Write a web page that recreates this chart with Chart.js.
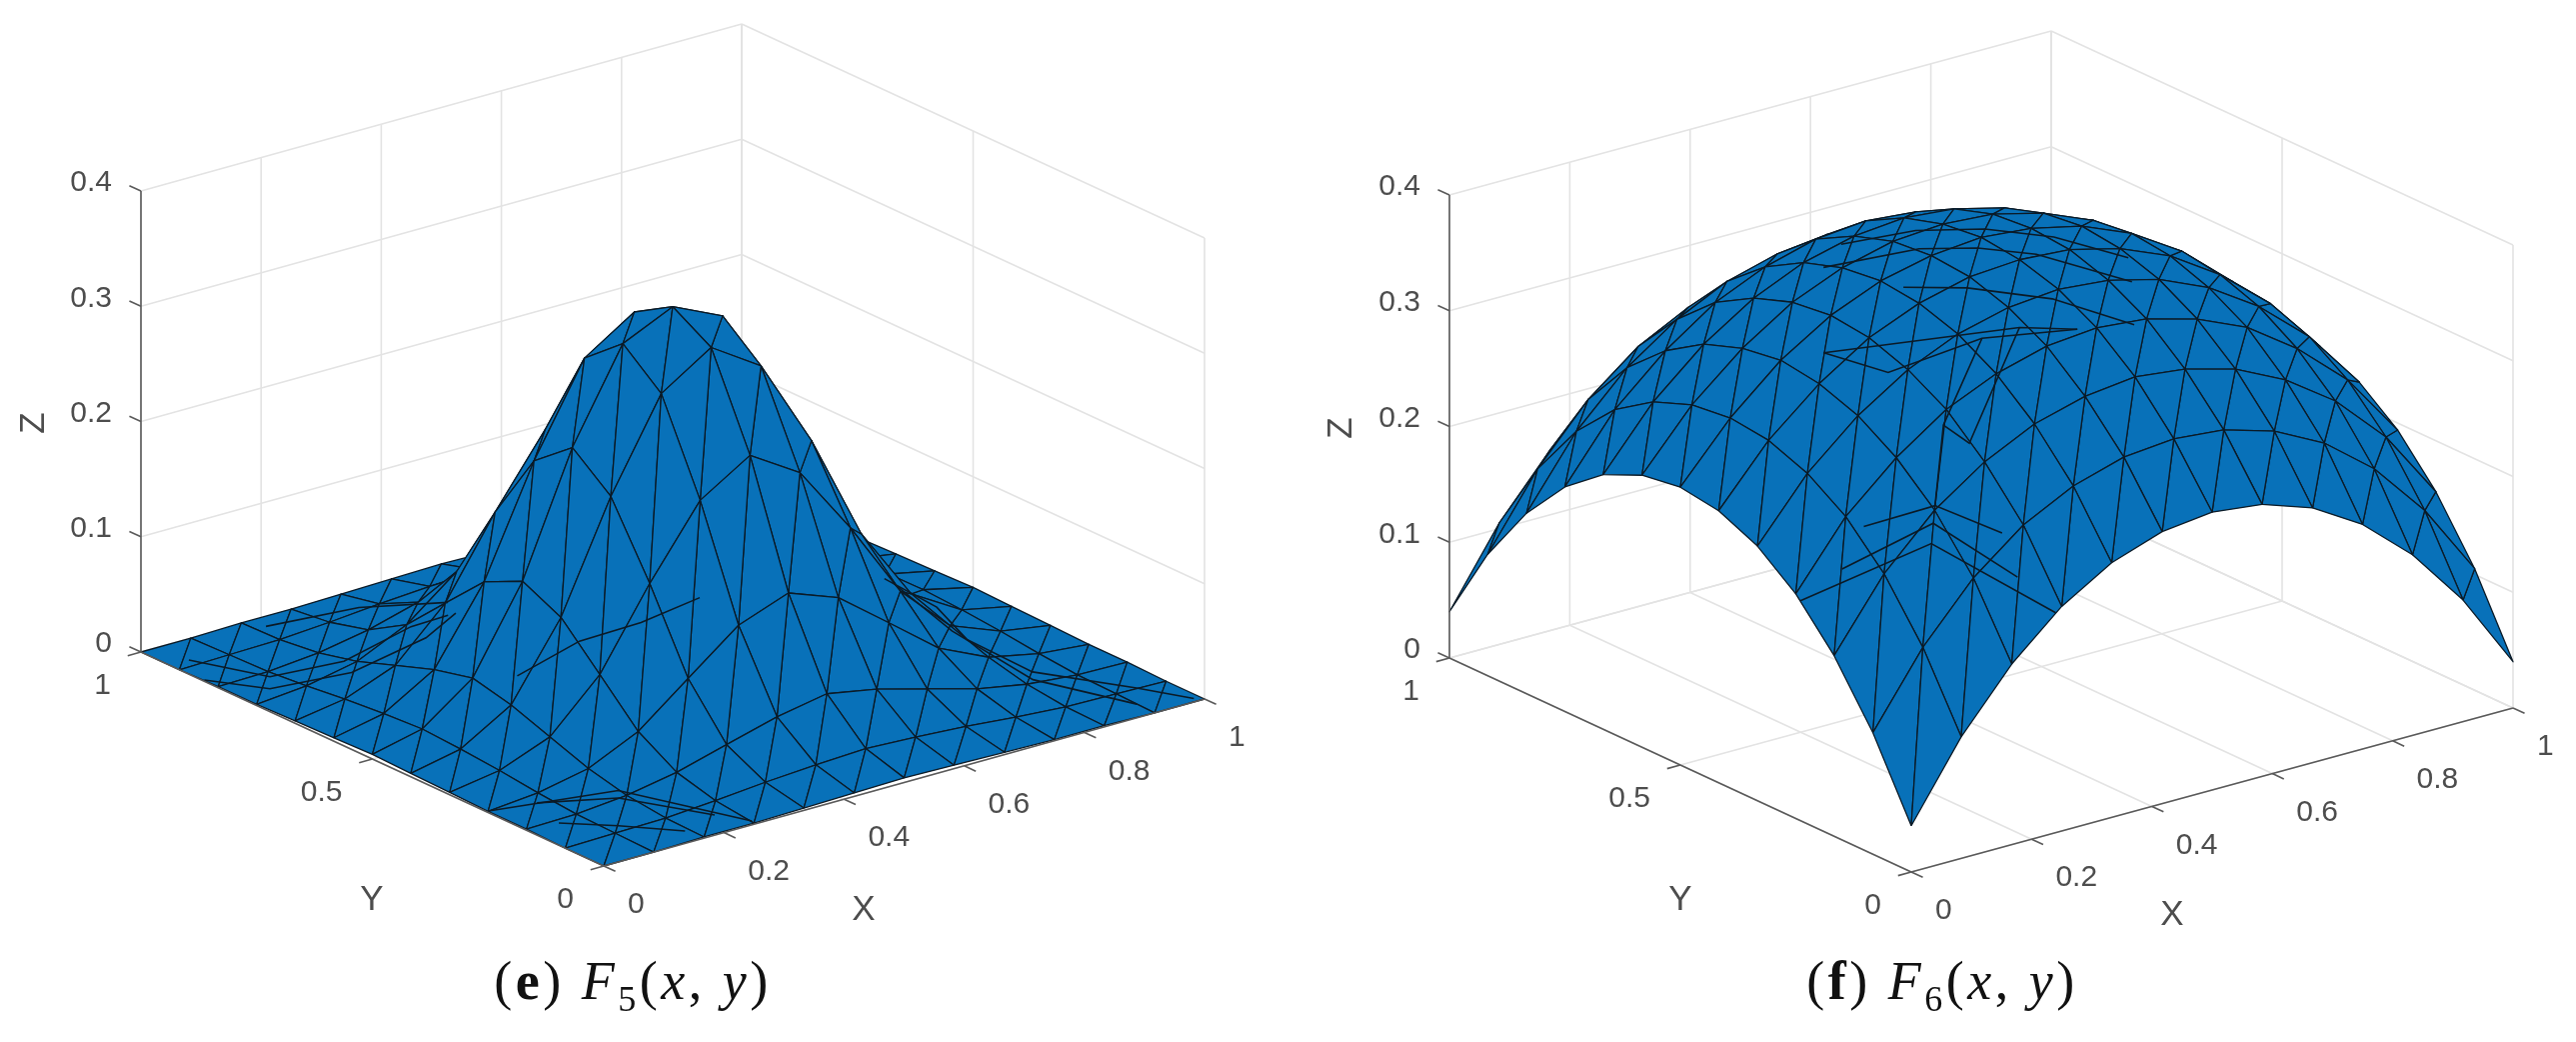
<!DOCTYPE html>
<html>
<head>
<meta charset="utf-8">
<title>F5 F6</title>
<script src="https://cdn.jsdelivr.net/npm/chart.js@4/dist/chart.umd.min.js"></script>
<style>
  html, body { margin: 0; padding: 0; background: #fff; overflow: hidden; }
  #wrap { position: relative; width: 2577px; height: 1042px; }
  canvas { position: absolute; left: 0; top: 0; filter: blur(0.5px); }
  .cap { position: absolute; top: 950px; transform: translateX(-50%); font: 54px "Liberation Serif", serif; letter-spacing: 3.5px; color: #111; white-space: nowrap; }
  .cap sub { font-size: 36px; vertical-align: -12px; line-height: 0; }
</style>
</head>
<body>
<div id="wrap">
  <canvas id="canvasSup" width="2577" height="1042"></canvas>
  <div class="cap" style="left:633px">(<b>e</b>) <i>F</i><sub>5</sub>(<i>x</i>, <i>y</i>)</div>
  <div class="cap" style="left:1943px">(<b>f</b>) <i>F</i><sub>6</sub>(<i>x</i>, <i>y</i>)</div>
</div>
<script>
// mesh nodes
var xNodes = [0, .083, .167, .25, .333, .417, .5, .583, .667, .75, .833, .917, 1];
var yNodes = [0, .083, .167, .25, .333, .417, .5, .583, .667, .75, .833, .917, 1];

// z values, one row per y node
var zF5 = [
  [0, 0, .001, .001, .002, .003, .004, .003, .002, .001, .001, 0, 0],
  [0, .001, .002, .005, .009, .012, .014, .012, .009, .005, .002, .001, 0],
  [.001, .002, .006, .014, .026, .038, .046, .038, .026, .014, .006, .002, .001],
  [.001, .005, .014, .034, .068, .102, .118, .102, .068, .034, .014, .005, .001],
  [.002, .009, .026, .068, .135, .195, .222, .195, .135, .068, .026, .009, .002],
  [.003, .012, .038, .102, .195, .272, .300, .272, .195, .102, .038, .012, .003],
  [.004, .014, .046, .118, .222, .300, .320, .300, .222, .118, .046, .014, .004],
  [.003, .012, .038, .102, .195, .272, .300, .272, .195, .102, .038, .012, .003],
  [.002, .009, .026, .068, .135, .195, .222, .195, .135, .068, .026, .009, .002],
  [.001, .005, .014, .034, .068, .102, .118, .102, .068, .034, .014, .005, .001],
  [.001, .002, .006, .014, .026, .038, .046, .038, .026, .014, .006, .002, .001],
  [0, .001, .002, .005, .009, .012, .014, .012, .009, .005, .002, .001, 0],
  [0, 0, .001, .001, .002, .003, .004, .003, .002, .001, .001, 0, 0]
];
var zF6 = [
  [.040, .105, .156, .194, .220, .235, .240, .235, .220, .194, .156, .105, .040],
  [.105, .167, .215, .249, .271, .284, .288, .284, .271, .249, .215, .167, .105],
  [.156, .215, .258, .288, .309, .321, .326, .321, .309, .288, .258, .215, .156],
  [.194, .249, .288, .318, .337, .349, .353, .349, .337, .318, .288, .249, .194],
  [.220, .271, .309, .337, .356, .367, .371, .367, .356, .337, .309, .271, .220],
  [.235, .284, .321, .349, .367, .378, .381, .378, .367, .349, .321, .284, .235],
  [.240, .288, .326, .353, .371, .381, .385, .381, .371, .353, .326, .288, .240],
  [.235, .284, .321, .349, .367, .378, .381, .378, .367, .349, .321, .284, .235],
  [.220, .271, .309, .337, .356, .367, .371, .367, .356, .337, .309, .271, .220],
  [.194, .249, .288, .318, .337, .349, .353, .349, .337, .318, .288, .249, .194],
  [.156, .215, .258, .288, .309, .321, .326, .321, .309, .288, .258, .215, .156],
  [.105, .167, .215, .249, .271, .284, .288, .284, .271, .249, .215, .167, .105],
  [.040, .105, .156, .194, .220, .235, .240, .235, .220, .194, .156, .105, .040]
];

// denser mesh chains seen on top of the surfaces, as x, y, z
var foldsF5 = [
  [[.032, .938, 0], [.076, .82, .001], [.18, .795, .004], [.317, .828, .008], [.371, .818, .012]],
  [[.003, .867, 0], [.049, .785, .001], [.165, .759, .003], [.305, .78, .009], [.363, .791, .02]],
  [[.185, .97, .001], [.319, .943, .003], [.353, .795, .03]],
  [[.86, .51, .03], [.897, .445, .012], [.874, .35, .005], [.877, .212, .002], [.954, .087, 0], [.99, .01, 0]],
  [[.86, .492, .03], [.87, .377, .008], [.86, .189, .002], [.918, .04, 0]],
  [[.004, .254, 0], [.159, .175, .01], [.255, .011, 0]],
  [[.07, .235, .001], [.15, .163, .007], [.23, .059, 0]],
  [[.05, .162, 0], [.103, .102, .001], [.163, .036, 0]],
  [[.387, .295, .122], [.314, .327, .105], [.26, .39, .085], [.195, .44, .055]]
];
var foldsF6 = [
  [[0, .24, .19], [.143, .143, .237], [.24, 0, .19]],
  [[.05, .215, .215], [.157, .157, .25], [.215, .05, .215]],
  [[.09, .22, .245], [.17, .17, .261], [.22, .09, .245]],
  [[.17, .17, .261], [.23, .23, .311], [.354, .308, .354]],
  [[.23, .23, .311], [.25, .2, .298], [.407, .296, .358]],
  [[.2, .45, .337], [.231, .351, .334], [.354, .308, .354], [.474, .258, .354]],
  [[.2, .45, .337], [.407, .296, .358], [.474, .258, .354]],
  [[.34, .46, .372], [.4, .4, .374], [.48, .32, .368], [.557, .243, .349]],
  [[.39, .66, .365], [.46, .59, .38], [.525, .525, .384], [.59, .46, .38], [.66, .39, .365]],
  [[.33, .62, .361], [.42, .53, .381], [.475, .475, .384], [.53, .42, .381], [.62, .33, .361]]
];

// tick labels
var xTicks = [0, .2, .4, .6, .8, 1];
var yTicks = [0, .5, 1];
var zTicks = [0, .1, .2, .3, .4];
var xTickText = ['0', '0.2', '0.4', '0.6', '0.8', '1'];
var yTickText = ['0', '0.5', '1'];
var zTickText = ['0', '0.1', '0.2', '0.3', '0.4'];

// box of each panel on the page
var panels = [
  { z: zF5, folds: foldsF5, o: [604, 866], ex: [601, -167], ey: [-463, -214], ez: 461, xLab: [864, 910], yLab: [372, 900], zLab: [34, 423] },
  { z: zF6, folds: foldsF6, o: [1912, 872], ex: [602, -164], ey: [-462, -214], ez: 463, xLab: [2173, 915], yLab: [1681, 900], zLab: [1342, 428] }
];

var ZMAX = 0.4;
var BLUE = '#0871b9';
var GRID = '#e3e3e3';
var AXIS = '#5a5a5a';
var MESH = '#0b1a26';

function project(p, x, y, z) {
  return {
    x: p.o[0] + x * p.ex[0] + y * p.ey[0],
    y: p.o[1] + x * p.ex[1] + y * p.ey[1] - z / ZMAX * p.ez
  };
}

function polyline(points, color, width) {
  return { data: points, showLine: true, fill: false, borderColor: color, borderWidth: width, pointRadius: 0, tension: 0 };
}

function boxLines(p) {
  var out = [];
  var seg = function (a, b, color, width) {
    out.push(polyline([project(p, a[0], a[1], a[2]), project(p, b[0], b[1], b[2])], color, width));
  };
  // walls and floor
  zTicks.forEach(function (z) {
    seg([0, 1, z], [1, 1, z], GRID, 1.6);
    seg([1, 1, z], [1, 0, z], GRID, 1.6);
  });
  xTicks.forEach(function (x) {
    seg([x, 1, 0], [x, 1, ZMAX], GRID, 1.6);
    seg([x, 0, 0], [x, 1, 0], GRID, 1.6);
  });
  yTicks.forEach(function (y) {
    seg([1, y, 0], [1, y, ZMAX], GRID, 1.6);
    seg([0, y, 0], [1, y, 0], GRID, 1.6);
  });
  return out;
}

function axisLines(p) {
  var out = [];
  var seg = function (a, b) {
    out.push(polyline([project(p, a[0], a[1], a[2]), project(p, b[0], b[1], b[2])], AXIS, 1.6));
  };
  seg([0, 0, 0], [1, 0, 0]);
  seg([0, 0, 0], [0, 1, 0]);
  seg([0, 1, 0], [0, 1, ZMAX]);
  xTicks.forEach(function (x) { seg([x, 0, 0], [x, -.025, 0]); });
  yTicks.forEach(function (y) { seg([0, y, 0], [-.022, y, 0]); });
  zTicks.forEach(function (z) { seg([0, 1, z], [0, 1.025, z]); });
  return out;
}

function surface(p) {
  var tris = [];
  var node = function (i, j) { return [xNodes[i], yNodes[j], p.z[j][i]]; };
  for (var j = 0; j < yNodes.length - 1; j++) {
    for (var i = 0; i < xNodes.length - 1; i++) {
      var a = node(i, j), b = node(i + 1, j), c = node(i + 1, j + 1), d = node(i, j + 1);
      tris.push([a, b, c]);
      tris.push([a, c, d]);
    }
  }
  // far triangles first
  var depth = function (t) {
    var s = 0;
    t.forEach(function (n) { s += 432 * n[0] + 561 * n[1] - 442 * n[2]; });
    return s;
  };
  tris.sort(function (m, n) { return depth(n) - depth(m); });
  return tris.map(function (t) {
    var pts = t.concat([t[0]]).map(function (n) { return project(p, n[0], n[1], n[2]); });
    return { data: pts, showLine: true, fill: 'shape', backgroundColor: BLUE, borderColor: MESH, borderWidth: 1.3, borderJoinStyle: 'round', pointRadius: 0, tension: 0 };
  });
}

function foldLines(p) {
  return p.folds.map(function (f) {
    return polyline(f.map(function (n) { return project(p, n[0], n[1], n[2]); }), MESH, 1.6);
  });
}

// tick text and axis names, placed with the chart scales
var tickText = {
  id: 'tickText',
  afterDraw: function (chart) {
    var ctx = chart.ctx, sx = chart.scales.x, sy = chart.scales.y;
    var put = function (text, px, py, align) {
      ctx.textAlign = align;
      ctx.textBaseline = 'middle';
      ctx.fillText(text, sx.getPixelForValue(px), sy.getPixelForValue(py));
    };
    ctx.save();
    ctx.fillStyle = '#4d4d4d';
    panels.forEach(function (p) {
      ctx.font = '30px "Liberation Sans", Arial, sans-serif';
      xTicks.forEach(function (v, i) {
        var q = project(p, v, 0, 0);
        put(xTickText[i], q.x + 24, q.y + 39, 'left');
      });
      yTicks.forEach(function (v, i) {
        var q = project(p, 0, v, 0);
        put(yTickText[i], q.x - 30, q.y + 34, 'right');
      });
      zTicks.forEach(function (v, i) {
        var q = project(p, 0, 1, v);
        put(zTickText[i], q.x - 29, q.y - 8, 'right');
      });
      ctx.font = '35px "Liberation Sans", Arial, sans-serif';
      put('X', p.xLab[0], p.xLab[1], 'center');
      put('Y', p.yLab[0], p.yLab[1], 'center');
      ctx.save();
      ctx.translate(sx.getPixelForValue(p.zLab[0]), sy.getPixelForValue(p.zLab[1]));
      ctx.rotate(-Math.PI / 2);
      ctx.textAlign = 'center';
      ctx.fillText('Z', 0, 0);
      ctx.restore();
    });
    ctx.restore();
  }
};

var layers = [];
panels.forEach(function (p) {
  layers = layers.concat(boxLines(p), surface(p), foldLines(p), axisLines(p));
});

// chart.js paints the first dataset last
const ctx = document.getElementById('canvasSup').getContext('2d');
const myChart = new Chart(ctx, {
  type: 'scatter',
  data: { datasets: layers.reverse() },
  plugins: [tickText],
  options: {
    responsive: false,
    animation: false,
    events: [],
    layout: { padding: 0 },
    plugins: { legend: { display: false }, tooltip: { enabled: false } },
    scales: {
      x: { type: 'linear', min: 0, max: 2577, display: false },
      y: { type: 'linear', min: 0, max: 1042, reverse: true, display: false }
    }
  }
});
</script>
</body>
</html>
